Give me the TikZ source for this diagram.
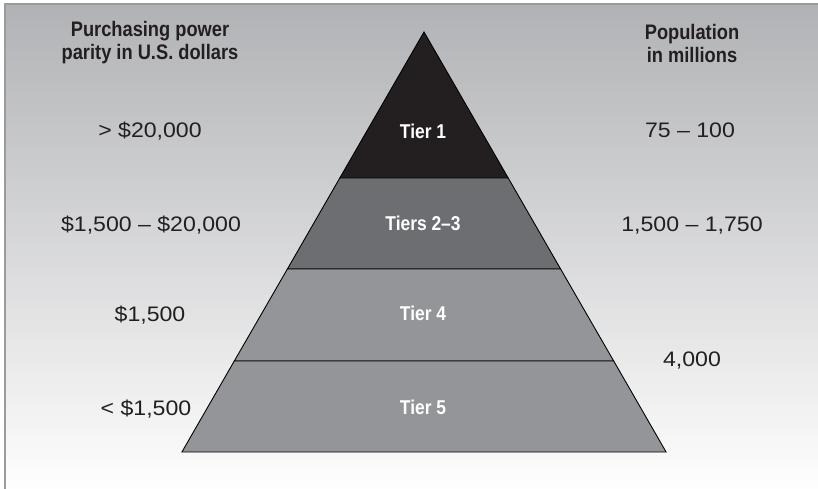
\documentclass[tikz,border=0pt]{standalone}
\usepackage{fontspec}
\setmainfont{Liberation Sans}
\newfontfamily\headfont[FakeStretch=0.87,Ligatures=TeX]{Liberation Sans}
\newfontfamily\numfont[FakeStretch=1.1,Ligatures=TeX]{Liberation Sans}
\definecolor{bgtop}{HTML}{B1B2B5}
\definecolor{bgbot}{HTML}{FEFEFE}
\definecolor{framecol}{HTML}{9A9B9D}
\definecolor{tierA}{HTML}{231F20}
\definecolor{tierB}{HTML}{6D6E71}
\definecolor{tierC}{HTML}{939598}
\definecolor{txt}{HTML}{231F20}
\tikzset{
  head/.style={font=\headfont\bfseries\fontsize{21}{23}\selectfont, text=txt, align=center, inner sep=0pt},
  tierlbl/.style={font=\headfont\bfseries\fontsize{20}{24}\selectfont, text=white, anchor=base, inner sep=0pt},
  numlbl/.style={font=\numfont\fontsize{21}{24}\selectfont, text=txt, anchor=base, inner sep=0pt},
  layer/.style={draw=black, line width=0.9pt, line join=miter}
}
\begin{document}
\begin{tikzpicture}[x=1pt,y=-1pt]
\useasboundingbox (0,0) rectangle (818,489);
\shade[top color=bgtop, bottom color=bgbot] (5,4) rectangle (818,489);
\draw[framecol, line width=1.5pt] (5,489) -- (5,4) -- (818,4);

% pyramid layers
\coordinate (apex) at (424,32);
\coordinate (l1) at (339.8,178); \coordinate (r1) at (508.2,178);
\coordinate (l2) at (287.4,269); \coordinate (r2) at (560.6,269);
\coordinate (l3) at (234.3,361); \coordinate (r3) at (613.7,361);
\coordinate (l4) at (181.9,452); \coordinate (r4) at (666.1,452);
\fill[tierA] (apex) -- (r1) -- (l1) -- cycle;
\filldraw[layer, fill=tierB] (l1) -- (r1) -- (r2) -- (l2) -- cycle;
\filldraw[layer, fill=tierC] (l2) -- (r2) -- (r3) -- (l3) -- cycle;
\filldraw[layer, fill=tierC] (l3) -- (r3) -- (r4) -- (l4) -- cycle;
\draw[black, line width=0.9pt] (l1) -- (apex) -- (r1);

% headers
\node[head] (hleft) at (150,43) {Purchasing power\\parity in U.S. dollars};
\node[head] (hright) at (692,43) {Population\\in millions};

% tier labels
\node[tierlbl] (t1) at (423,138.5) {Tier 1};
\node[tierlbl] (t2) at (423,230.5) {Tiers 2–3};
\node[tierlbl] (t4) at (423,320.5) {Tier 4};
\node[tierlbl] (t5) at (423,414.5) {Tier 5};

% left values
\node[numlbl] (p1) at (150,138) {> \$20,000};
\node[numlbl] (p2) at (151,231) {\$1,500 – \$20,000};
\node[numlbl] (p4) at (150,321) {\$1,500};
\node[numlbl] (p5) at (146,415) {< \$1,500};

% right values
\node[numlbl] (n1) at (690,138) {75 – 100};
\node[numlbl] (n2) at (692,231) {1,500 – 1,750};
\node[numlbl] (n4) at (692,366) {4,000};
\end{tikzpicture}
\end{document}
